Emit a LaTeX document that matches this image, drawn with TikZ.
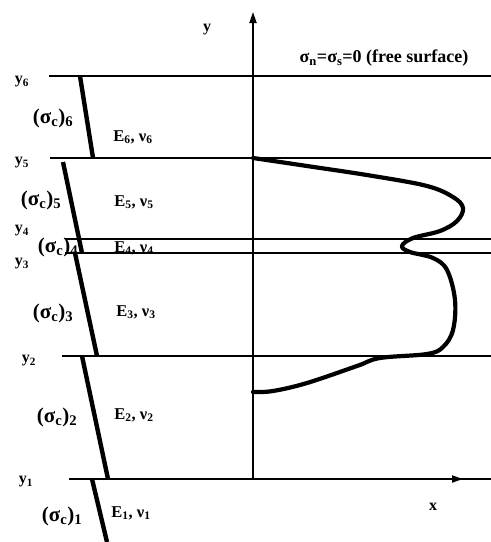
\documentclass[tikz,border=0pt]{standalone}
\usepackage{fontspec}
\setmainfont{Liberation Serif}
\usetikzlibrary{arrows.meta}
\tikzset{
  iface/.style={line width=1.6pt},
  stiff/.style={line width=4.4pt},
  axis/.style={line width=1.8pt, -{Triangle[length=11pt, width=7pt]}},
  ylab/.style={font=\bfseries\fontsize{16}{18}\selectfont, inner sep=0pt},
  siglab/.style={font=\bfseries\fontsize{21}{23}\selectfont, inner sep=0pt},
  matlab/.style={font=\bfseries\fontsize{16.5}{18}\selectfont, inner sep=0pt}
}
\begin{document}
\begin{tikzpicture}[x=1pt, y=-1pt]
    \useasboundingbox (0,0) rectangle (491,542);
    % Layer interfaces
    \draw[iface, line width=2.4pt] (49,76) -- (491,76);
    \draw[iface] (50,158) -- (491,158);
    \draw[iface] (65,239) -- (491,239);
    \draw[iface] (65,253) -- (491,253);
    \draw[iface] (62,356) -- (491,356);
    \draw[iface] (69,479) -- (491,479);

    % Axes
    \coordinate (O) at (253,479);
    \coordinate (ytip) at (253,12);
    \coordinate (xtip) at (463,479);
    \draw[axis] (O) -- (ytip);
    \draw[axis] (O) -- (xtip);
    \node[ylab] (ylabel) at (207,30) {y};
    \node[ylab] (xlabel) at (433,507) {x};

    % Strength lines
    \draw[stiff] (80,76) -- (93,158);
    \draw[stiff] (63,162) -- (82,253);
    \draw[stiff] (75,253) -- (97,356);
    \draw[stiff] (82,356) -- (108,479);
    \draw[stiff] (92,479) -- (107,542);

    % Interface labels
    \node[ylab] (y6) at (22,82) {y\textsubscript{6}};
    \node[ylab] (y5) at (22,163) {y\textsubscript{5}};
    \node[ylab] (y4) at (22,231) {y\textsubscript{4}};
    \node[ylab] (y3) at (22,264) {y\textsubscript{3}};
    \node[ylab] (y2) at (29,361) {y\textsubscript{2}};
    \node[ylab] (y1) at (26,482) {y\textsubscript{1}};

    % Strength labels
    \node[siglab] (s6) at (53,118) {(σ\textsubscript{c})\textsubscript{6}};
    \node[siglab] (s5) at (41,200) {(σ\textsubscript{c})\textsubscript{5}};
    \node[siglab] (s4) at (58,247) {(σ\textsubscript{c})\textsubscript{4}};
    \node[siglab] (s3) at (53,313) {(σ\textsubscript{c})\textsubscript{3}};
    \node[siglab] (s2) at (57,417) {(σ\textsubscript{c})\textsubscript{2}};
    \node[siglab] (s1) at (62,516) {(σ\textsubscript{c})\textsubscript{1}};

    % Material labels
    \node[matlab] (m6) at (133,137) {E\textsubscript{6}, ν\textsubscript{6}};
    \node[matlab] (m5) at (134,202) {E\textsubscript{5}, ν\textsubscript{5}};
    \node[matlab] (m4) at (134,248) {E\textsubscript{4}, ν\textsubscript{4}};
    \node[matlab] (m3) at (136,312) {E\textsubscript{3}, ν\textsubscript{3}};
    \node[matlab] (m2) at (134,415) {E\textsubscript{2}, ν\textsubscript{2}};
    \node[matlab] (m1) at (131,513) {E\textsubscript{1}, ν\textsubscript{1}};

    % Free surface
    \node[siglab, font=\bfseries\fontsize{18}{20}\selectfont] (free) at (384,58)
        {σ\textsubscript{n}=σ\textsubscript{s}=0 (free surface)};

    % Stress profile
    \draw[line width=4.2pt, line join=round, line cap=round] plot[smooth, tension=0.6] coordinates {
        (253,158) (307,166) (373,176) (427,186) (453,197) (463,208) (457,221)
        (440,231) (413,238) (402,246) (410,252) (433,258) (447,270) (455,300)
        (453,330) (443,347) (427,354) (380,358) (357,366) (307,383) (273,391) (253,392)};
\end{tikzpicture}
\end{document}
